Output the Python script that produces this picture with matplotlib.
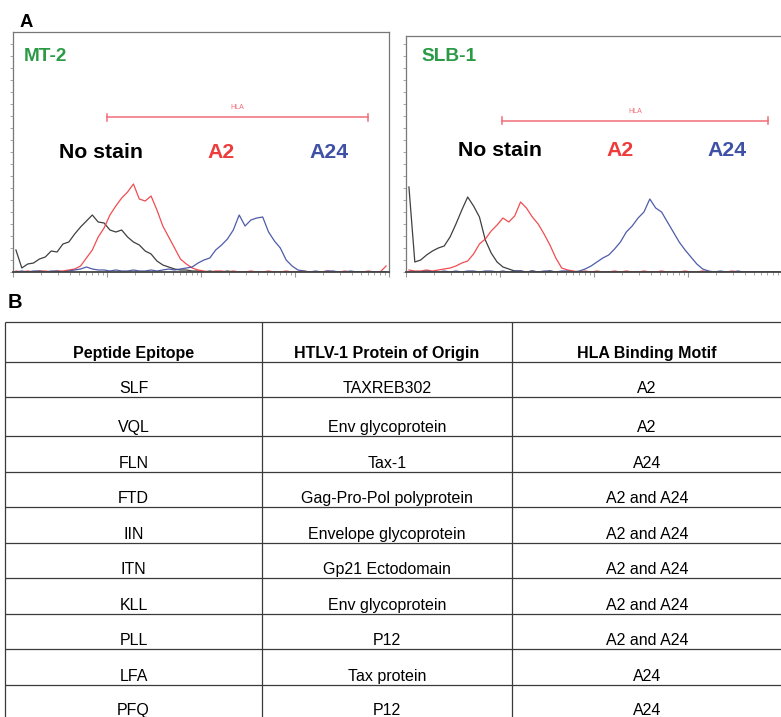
import numpy as np
import matplotlib.pyplot as plt

plt.rcParams['font.family'] = ['Liberation Sans', 'DejaVu Sans']

W, H = 781, 717

# flow cytometry histograms: events in 64 log-spaced channels (10^0 .. 10^4)
mt2_no_stain = [22, 4, 8, 9, 13, 15, 21, 20, 28, 30, 38, 45, 51, 57, 50, 49,
                42, 40, 42, 35, 30, 27, 21, 18, 11, 7, 5, 3, 2, 2, 1, 1,
                0, 1, 0, 0, 1, 0, 0, 0, 0, 0, 0, 0, 0, 0, 0, 0,
                0, 0, 0, 0, 0, 0, 0, 0, 0, 0, 0, 0, 0, 0, 0, 0]
mt2_a2 = [1, 0, 1, 0, 1, 1, 0, 1, 1, 2, 3, 6, 14, 22, 35, 44,
          57, 66, 74, 80, 88, 73, 71, 76, 62, 46, 35, 24, 13, 8, 4, 2,
          1, 0, 1, 1, 0, 1, 0, 0, 1, 0, 0, 1, 0, 0, 1, 0,
          0, 1, 0, 0, 0, 1, 0, 0, 1, 0, 0, 0, 1, 0, 0, 6]
mt2_a24 = [0, 1, 0, 1, 1, 0, 1, 1, 0, 1, 2, 3, 5, 3, 2, 2,
           1, 2, 1, 1, 2, 1, 1, 2, 1, 2, 3, 2, 3, 4, 5, 9,
           12, 14, 22, 27, 33, 42, 57, 46, 52, 54, 55, 40, 31, 24, 12, 6,
           2, 1, 0, 1, 0, 1, 1, 0, 0, 1, 0, 0, 0, 0, 0, 0]

slb1_no_stain = [85, 10, 12, 17, 21, 24, 26, 35, 48, 62, 75, 66, 55, 32, 19, 10,
                 5, 3, 1, 1, 0, 1, 0, 0, 1, 0, 0, 0, 0, 0, 0, 0,
                 0, 0, 0, 0, 0, 0, 0, 0, 0, 0, 0, 0, 0, 0, 0, 0,
                 0, 0, 0, 0, 0, 0, 0, 0, 0, 0, 0, 0, 0, 0, 0, 0]
slb1_a2 = [2, 1, 1, 2, 1, 2, 3, 4, 6, 9, 11, 18, 28, 33, 41, 47,
           54, 50, 56, 70, 64, 55, 48, 38, 27, 14, 4, 2, 1, 0, 1, 0,
           1, 0, 0, 1, 0, 1, 0, 0, 1, 0, 0, 1, 0, 0, 0, 1,
           0, 0, 1, 0, 0, 0, 0, 1, 0, 0, 0, 0, 0, 0, 0, 0]
slb1_a24 = [0, 0, 0, 1, 0, 0, 1, 0, 1, 0, 1, 1, 0, 1, 1, 0,
            1, 0, 1, 1, 0, 1, 0, 1, 1, 0, 1, 1, 0, 1, 3, 6,
            10, 14, 17, 23, 30, 40, 46, 54, 60, 73, 64, 60, 50, 40, 30, 22,
            15, 8, 3, 1, 0, 1, 0, 0, 1, 0, 0, 0, 0, 0, 0, 0]

cell_lines = ['MT-2', 'SLB-1']
histograms = [[mt2_no_stain, mt2_a2, mt2_a24],
              [slb1_no_stain, slb1_a2, slb1_a24]]
stain_labels = ['No stain', 'A2', 'A24']
gate_name = 'HLA'
gate_bounds = [(10.0, 5980.0), (10.5, 7110.0)]

table_header = ['Peptide Epitope', 'HTLV-1 Protein of Origin', 'HLA Binding Motif']
epitopes = ['SLF', 'VQL', 'FLN', 'FTD', 'IIN', 'ITN', 'KLL', 'PLL', 'LFA', 'PFQ']
proteins = ['TAXREB302', 'Env glycoprotein', 'Tax-1', 'Gag-Pro-Pol polyprotein',
            'Envelope glycoprotein', 'Gp21 Ectodomain', 'Env glycoprotein', 'P12',
            'Tax protein', 'P12']
motifs = ['A2', 'A2', 'A24', 'A2 and A24', 'A2 and A24', 'A2 and A24',
          'A2 and A24', 'A2 and A24', 'A24', 'A24']

# layout (pixels)
panel_boxes = [(13, 32, 376, 240), (406, 36, 376, 236)]
gate_y = [155, 151]
label_pos = [[(0.235, 0.50), (0.5545, 0.50), (0.840, 0.50)],
             [(0.250, 0.513), (0.569, 0.513), (0.855, 0.513)]]
title_pos = [(0.029, 0.898), (0.040, 0.913)]
curve_colors = ['#2b2b2b', '#ee3a3f', '#3b4a9f']
label_colors = ['black', '#ee3b3b', '#3f51a5']
col_edges = [5, 262, 512, 782]
table_top = 322
row_heights = [40, 35.3, 38.7, 35.7, 35.6, 35.4, 35.6, 35.7, 35.3, 35.7, 34.0]

fig = plt.figure(figsize=(W / 100, H / 100), dpi=100)


def px_axes(x, y, w, h, **kw):
    return fig.add_axes([x / W, 1 - (y + h) / H, w / W, h / H], **kw)


channels = 10 ** ((np.arange(64) + 0.5) * 4 / 64)

for k, (x0, y0, w, h) in enumerate(panel_boxes):
    ax = px_axes(x0, y0, w, h)
    for counts, col in zip(histograms[k], curve_colors):
        ax.plot(channels, counts, color=col, lw=0.9, alpha=0.9)
    ax.set_xscale('log')
    ax.set_xlim(1, 1e4)
    ax.set_ylim(0, h)
    ax.set_yticks(np.arange(0, h, 12))
    ax.tick_params(axis='both', which='both', direction='out', colors='#999999',
                   labelbottom=False, labelleft=False)
    ax.tick_params(axis='x', which='major', length=3.5, width=0.8)
    ax.tick_params(axis='x', which='minor', length=2, width=0.6)
    ax.tick_params(axis='y', length=2, width=0.6)
    for side, sp in ax.spines.items():
        sp.set_color('#777777')
        sp.set_linewidth(0.9)
    ax.spines['bottom'].set_color('#444444')
    ax.spines['bottom'].set_linewidth(1.3)

    lo, hi = gate_bounds[k]
    gy = gate_y[k]
    gcol = '#f26d78'
    ax.plot([lo, hi], [gy, gy], color=gcol, lw=1.1)
    ax.plot([lo, lo], [gy - 3.5, gy + 3.5], color=gcol, lw=1.1)
    ax.plot([hi, hi], [gy - 3.5, gy + 3.5], color=gcol, lw=1.1)
    ax.text(np.sqrt(lo * hi), gy + 6, gate_name, color=gcol, fontsize=5,
            ha='center', va='bottom')

    tx, ty = title_pos[k]
    ax.text(tx, ty, cell_lines[k], transform=ax.transAxes, color='#2a9a45',
            fontsize=13.7, fontweight='bold', ha='left', va='center')
    for (lx, ly), lab, lcol in zip(label_pos[k], stain_labels, label_colors):
        ax.text(lx, ly, lab, transform=ax.transAxes, color=lcol,
                fontsize=15.3, fontweight='bold', ha='center', va='center')

# panel letters and peptide table
ax_t = fig.add_axes([0, 0, 1, 1])
ax_t.set_xlim(0, W)
ax_t.set_ylim(H, 0)
ax_t.axis('off')

ax_t.text(20, 27, 'A', fontsize=13.3, fontweight='bold', va='baseline')
ax_t.text(8, 308, 'B', fontsize=14.5, fontweight='bold', va='baseline')

row_edges = table_top + np.concatenate([[0], np.cumsum(row_heights)])
ax_t.hlines(row_edges[:-1], col_edges[0], col_edges[-1], color='#3a3a3a', lw=0.9)
ax_t.vlines(col_edges, table_top, H, color='#3a3a3a', lw=0.9)

rows = [table_header] + [list(r) for r in zip(epitopes, proteins, motifs)]
for r, cells in enumerate(rows):
    yb = row_edges[r + 1] - 4
    for c, txt in enumerate(cells):
        xc = (col_edges[c] + col_edges[c + 1]) / 2
        ax_t.text(xc, yb, txt, fontsize=11.5, ha='center', va='baseline',
                  fontweight='bold' if r == 0 else 'normal')

fig.savefig('out.png', dpi=100)
